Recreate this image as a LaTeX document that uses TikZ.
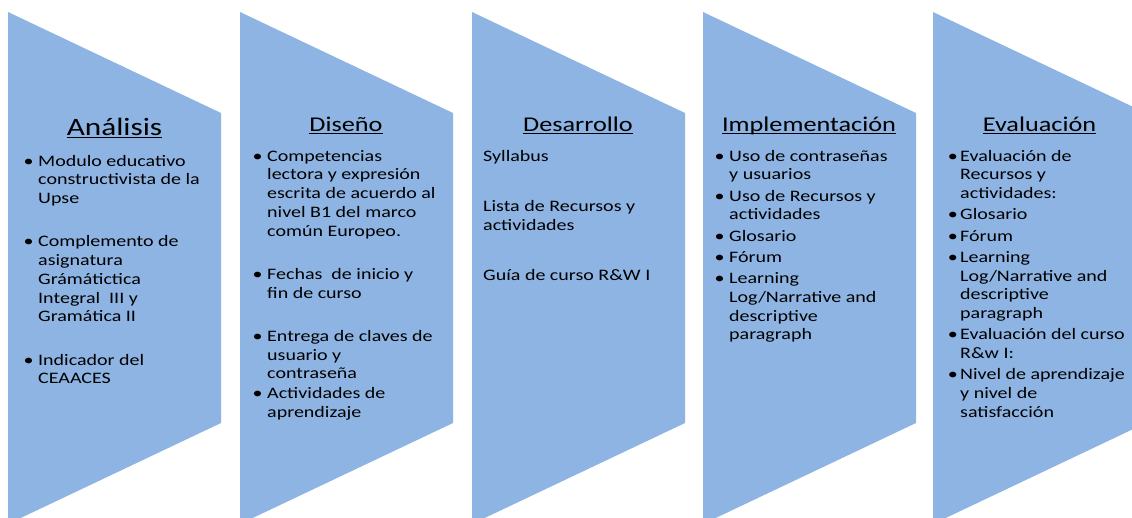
\documentclass[tikz,border=0pt]{standalone}
\usepackage{fontspec}
\setmainfont{Carlito}[FakeStretch=1.25]
\definecolor{faseazul}{HTML}{8EB4E3}
\tikzset{
    fase/.style={fill=faseazul, draw=none},
    titulo/.style={font=\fontsize{21}{25}\selectfont, inner sep=0, anchor=base},
    cuerpo/.style={font=\fontsize{16}{18.75}\selectfont, inner sep=0, anchor=base west},
}
\newcommand*{\flecha}[1]{\fill[fase](#1, 12)--++(213, 101)--++(0, 310)--++(-213, 101)--cycle;}
\newcommand*{\vi}[1][4.5pt]{\llap{\textbullet\hspace{#1}}}
\newcommand*{\subr}[1]{\setbox0=\hbox{#1}\rlap{\rule[-3pt]{\wd0}{1.2pt}}\box0}

\begin{document}
\begin{tikzpicture}[x=1pt, y=-1pt]
    \useasboundingbox(0, 0)rectangle(1132, 517);
    \clip(0, 0)rectangle(1132, 517);
    \flecha{8}
    \flecha{240}
    \flecha{472}
    \flecha{703}
    \flecha{933}
    % titulos
    \node[titulo, font=\fontsize{25}{30}\selectfont](analisis)at(114.5, 135){\subr{Análisis}};
    \node[titulo](diseno)at(346, 131){\subr{Diseño}};
    \node[titulo](desarrollo)at(578, 131){\subr{Desarrollo}};
    \node[titulo](implementacion)at(809, 131){\subr{Implementación}};
    \node[titulo](evaluacion)at(1039.5, 131){\subr{Evaluación}};
    % listas
    \node[cuerpo](analisis-txt)at(38, 166){\begin{tabular}[t]{@{}l@{}}
        \vi Modulo educativo\\ constructivista de la\\ Upse\\[24.5pt]
        \vi Complemento de\\ asignatura\\ Grámátictica\\ Integral\ \ III y\\ Gramática II\\[24.5pt]
        \vi Indicador del\\ CEAACES
    \end{tabular}};
    \node[cuerpo](diseno-txt)at(267, 161){\begin{tabular}[t]{@{}l@{}}
        \vi Competencias\\ lectora y expresión\\ escrita de acuerdo al\\ nivel B1 del marco\\ común Europeo.\\[24.5pt]
        \vi Fechas\ \ de inicio y\\ fin de curso\\[24.5pt]
        \vi Entrega de claves de\\ usuario y\\ contraseña\\[1pt]
        \vi Actividades de\\ aprendizaje
    \end{tabular}};
    \node[cuerpo](desarrollo-txt)at(483, 161){\begin{tabular}[t]{@{}l@{}}
        Syllabus\\[32pt]
        Lista de Recursos y\\ actividades\\[31pt]
        Guía de curso R\&W I
    \end{tabular}};
    \node[cuerpo](implementacion-txt)at(729, 161){\begin{tabular}[t]{@{}l@{}}
        \vi Uso de contraseñas\\ y usuarios\\[2.5pt]
        \vi Uso de Recursos y\\ actividades\\[2.5pt]
        \vi Glosario\\[2.5pt]
        \vi Fórum\\[2.5pt]
        \vi Learning\\ Log/Narrative and\\ descriptive\\ paragraph
    \end{tabular}};
    \node[cuerpo](evaluacion-txt)at(960, 161){\begin{tabular}[t]{@{}l@{}}
        \vi[2.5pt]Evaluación de\\ Recursos y\\ actividades:\\[2.5pt]
        \vi[2.5pt]Glosario\\[2.5pt]
        \vi[2.5pt]Fórum\\[2.5pt]
        \vi[2.5pt]Learning\\ Log/Narrative and\\ descriptive\\ paragraph\\[2.5pt]
        \vi[2.5pt]Evaluación del curso\\ R\&w I:\\[2.5pt]
        \vi[2.5pt]Nivel de aprendizaje\\ y nivel de\\ satisfacción
    \end{tabular}};
\end{tikzpicture}
\end{document}
